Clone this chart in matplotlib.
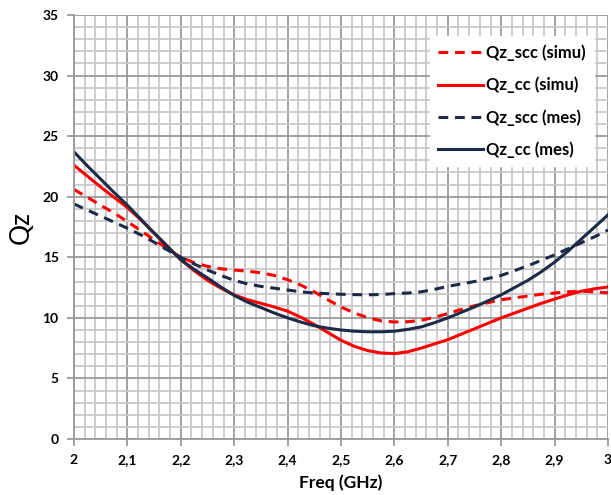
import numpy as np
import matplotlib
matplotlib.use("Agg")
import matplotlib.pyplot as plt
from matplotlib.ticker import MultipleLocator, FixedLocator, FixedFormatter

# frequency (GHz)
freq = [2.000, 2.025, 2.050, 2.075, 2.100, 2.125, 2.150, 2.175, 2.200, 2.225,
        2.250, 2.275, 2.300, 2.325, 2.350, 2.375, 2.400, 2.425, 2.450, 2.475,
        2.500, 2.525, 2.550, 2.575, 2.600, 2.625, 2.650, 2.675, 2.700, 2.725,
        2.750, 2.775, 2.800, 2.825, 2.850, 2.875, 2.900, 2.925, 2.950, 2.975, 3.000]

qz_scc_simu = [20.6, 19.95, 19.3, 18.65, 17.95, 17.2, 16.45, 15.7, 15.0, 14.55,
               14.25, 14.05, 13.95, 13.85, 13.72, 13.5, 13.15, 12.7, 12.15, 11.5,
               10.9, 10.4, 10.02, 9.75, 9.66, 9.68, 9.8, 10.05, 10.35, 10.7,
               11.0, 11.25, 11.5, 11.65, 11.8, 11.95, 12.05, 12.15, 12.2, 12.15, 12.06]
qz_cc_simu = [22.6, 21.7, 20.8, 19.95, 19.1, 18.1, 17.0, 15.9, 14.8, 13.9,
              13.1, 12.45, 11.9, 11.5, 11.2, 10.9, 10.55, 10.05, 9.45, 8.8,
              8.15, 7.65, 7.3, 7.1, 7.05, 7.2, 7.5, 7.85, 8.2, 8.65,
              9.1, 9.55, 10.0, 10.4, 10.8, 11.2, 11.55, 11.9, 12.2, 12.4, 12.55]
qz_scc_mes = [19.4, 18.9, 18.4, 17.9, 17.4, 16.85, 16.25, 15.6, 15.0, 14.45,
              13.95, 13.5, 13.1, 12.8, 12.6, 12.45, 12.3, 12.15, 12.05, 12.0,
              11.95, 11.92, 11.9, 11.93, 12.0, 12.05, 12.15, 12.35, 12.6, 12.8,
              13.0, 13.25, 13.5, 13.9, 14.3, 14.75, 15.2, 15.7, 16.2, 16.7, 17.25]
qz_cc_mes = [23.7, 22.55, 21.45, 20.35, 19.3, 18.15, 17.0, 15.9, 14.8, 14.0,
             13.3, 12.55, 11.85, 11.3, 10.85, 10.4, 10.0, 9.65, 9.35, 9.15,
             9.0, 8.9, 8.85, 8.85, 8.9, 9.05, 9.25, 9.6, 10.0, 10.45,
             10.9, 11.4, 11.9, 12.5, 13.1, 13.8, 14.6, 15.5, 16.5, 17.5, 18.5]

xtick_vals = [2.0, 2.1, 2.2, 2.3, 2.4, 2.5, 2.6, 2.7, 2.8, 2.9, 3.0]
xtick_labels = ["2", "2,1", "2,2", "2,3", "2,4", "2,5", "2,6", "2,7", "2,8", "2,9", "3"]

RED = "#ff0000"
NAVY = "#1b2a47"

plt.rcParams["font.family"] = ["Lato", "DejaVu Sans"]

fig = plt.figure(figsize=(6.11, 4.95), dpi=100)
ax = fig.add_axes([0.1211, 0.1131, 0.874, 0.8566])

lw = 2.2
dash = (0, (3.2, 2.2))
ax.plot(freq, qz_scc_simu, color=RED, lw=lw, ls=dash, label="Qz_scc (simu)")
ax.plot(freq, qz_cc_simu, color=RED, lw=lw, label="Qz_cc (simu)")
ax.plot(freq, qz_scc_mes, color=NAVY, lw=lw, ls=dash, label="Qz_scc (mes)")
ax.plot(freq, qz_cc_mes, color=NAVY, lw=lw, label="Qz_cc (mes)")

ax.set_xlim(2.0, 3.0)
ax.set_ylim(0, 35)

# grid
ax.xaxis.set_major_locator(FixedLocator(xtick_vals))
ax.xaxis.set_major_formatter(FixedFormatter(xtick_labels))
ax.xaxis.set_minor_locator(MultipleLocator(0.02))
ax.yaxis.set_major_locator(MultipleLocator(5))
ax.yaxis.set_minor_locator(MultipleLocator(1))
ax.grid(which="minor", color="#c8c8c8", lw=1.3, zorder=0)
ax.grid(which="major", color="#9a9a9a", lw=1.3, zorder=0)
ax.set_axisbelow(True)

for s in ["top", "right"]:
    ax.spines[s].set_visible(False)
for s in ["left", "bottom"]:
    ax.spines[s].set_color("#9a9a9a")
    ax.spines[s].set_linewidth(1.3)

ax.tick_params(which="major", direction="out", length=5, width=1.3, color="#9a9a9a",
               labelsize=10, pad=6)
ax.tick_params(which="minor", length=0)
for lab in ax.get_xticklabels() + ax.get_yticklabels():
    lab.set_fontweight("bold")

ax.set_xlabel("Freq (GHz)", fontsize=12.5, fontweight="bold", labelpad=6)
ax.set_ylabel("Qz", fontsize=19, labelpad=6)

leg = ax.legend(loc="upper right", bbox_to_anchor=(0.99, 0.97), frameon=True,
                fancybox=False, framealpha=1, edgecolor="white",
                prop={"size": 12, "weight": "bold"}, handlelength=2.7,
                handletextpad=0.2, labelspacing=0.95, borderpad=0.5)

fig.savefig("out.png", dpi=100)
